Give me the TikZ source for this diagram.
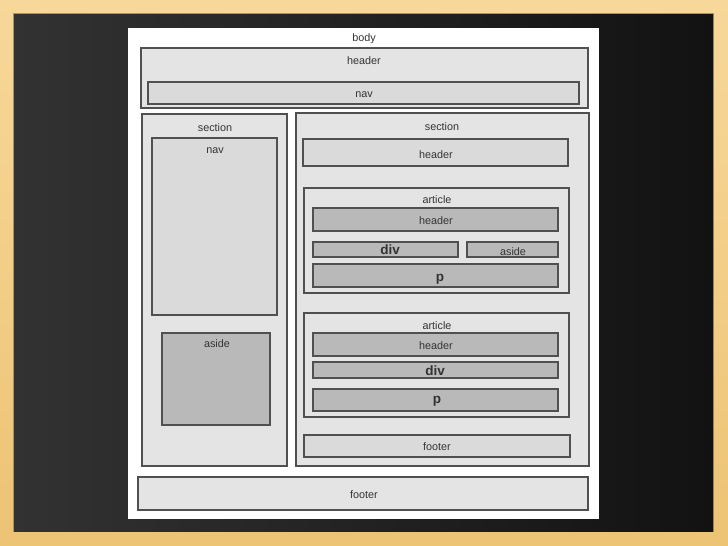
\documentclass[tikz,border=0pt]{standalone}
\usepackage{fontspec}
\setmainfont{Liberation Sans}
\begin{document}
\definecolor{wood}{HTML}{EDC374}
\definecolor{woodlight}{HTML}{F7D89A}
\definecolor{woodedge}{HTML}{B8924A}
\definecolor{boardL}{HTML}{323232}
\definecolor{boardR}{HTML}{121212}
\definecolor{boxstroke}{HTML}{505050}
\definecolor{outerfill}{HTML}{E4E4E4}
\definecolor{midfill}{HTML}{DADADA}
\definecolor{darkfill}{HTML}{B9B9B9}
\definecolor{labelcol}{HTML}{333333}
\begin{tikzpicture}[x=1pt,y=-1pt,
  box/.style={draw=boxstroke,line width=1.05pt},
  outerbox/.style={box,fill=outerfill},
  midbox/.style={box,fill=midfill},
  darkbox/.style={box,fill=darkfill},
  lbl/.style={text=labelcol,font=\fontsize{10.8}{13}\selectfont,inner sep=0pt,yshift=-1.2pt},
  blbl/.style={text=labelcol,font=\fontsize{13.5}{15}\selectfont\bfseries,inner sep=0pt,yshift=-1pt},
  plbl/.style={blbl,yshift=-2.5pt}]
\useasboundingbox (0,0) rectangle (728,546);
% wooden frame
\shade[top color=woodlight,bottom color=wood] (0,0) rectangle (728,546);
\draw[woodedge,line width=1pt] (13.5,13.5) rectangle (713.5,531.5);
% chalkboard
\shade[left color=boardL,right color=boardR] (14,14) rectangle (713,531);
% sheet of paper
\fill[white] (128,28) rectangle (599,519);
\node[lbl] (body) at (364,38) {body};
% page header with nav
\draw[outerbox] (141,48) rectangle (588,108);
\node[lbl] (hdr) at (364,59) {header};
\draw[midbox] (148,82) rectangle (579,104);
\node[lbl] (nav) at (364,93) {nav};
% left section
\draw[outerbox] (142,114) rectangle (287,466);
\node[lbl] (secL) at (215,126) {section};
\draw[midbox] (152,138) rectangle (277,315);
\node[lbl] (navL) at (215,149) {nav};
\draw[darkbox] (162,333) rectangle (270,425);
\node[lbl] (asideL) at (217,342) {aside};
% right section
\draw[outerbox] (296,113) rectangle (589,466);
\node[lbl] (secR) at (442,125) {section};
\draw[midbox] (303,139) rectangle (568,166);
\node[lbl] (hdrR) at (436,153) {header};
% first article
\draw[outerbox] (304,188) rectangle (569,293);
\node[lbl] (art1) at (437,198) {article};
\draw[darkbox] (313,208) rectangle (558,231);
\node[lbl] (art1h) at (436,219) {header};
\draw[darkbox] (313,242) rectangle (458,257);
\node[blbl] (art1d) at (390,249) {div};
\draw[darkbox] (467,242) rectangle (558,257);
\node[lbl] (art1a) at (513,250) {aside};
\draw[darkbox] (313,264) rectangle (558,287);
\node[plbl] (art1p) at (440,276) {p};
% second article
\draw[outerbox] (304,313) rectangle (569,417);
\node[lbl] (art2) at (437,324) {article};
\draw[darkbox] (313,333) rectangle (558,356);
\node[lbl] (art2h) at (436,344) {header};
\draw[darkbox] (313,362) rectangle (558,378);
\node[blbl] (art2d) at (435,370) {div};
\draw[darkbox] (313,389) rectangle (558,411);
\node[plbl] (art2p) at (437,398) {p};
% section footer
\draw[midbox] (304,435) rectangle (570,457);
\node[lbl] (ftrR) at (437,445) {footer};
% page footer
\draw[outerbox] (138,477) rectangle (588,510);
\node[lbl] (ftr) at (364,493) {footer};
\end{tikzpicture}
\end{document}
